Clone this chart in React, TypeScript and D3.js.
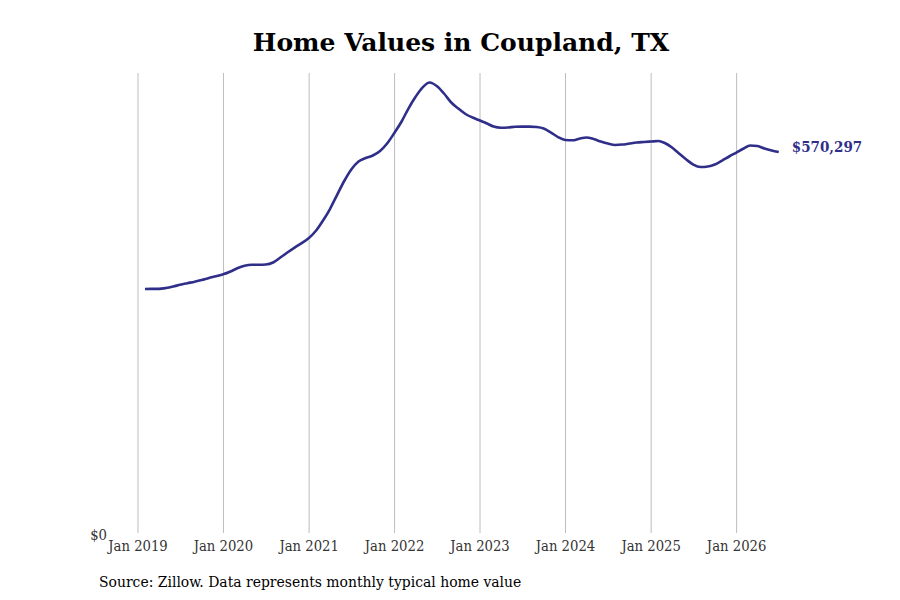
import React, { useEffect, useRef } from "react"
import * as d3 from "d3"

// monthly typical home value, Jan 2019 .. Jun 2026 (month-end)
const startMonth = "2019-01"
const values = [
  366300, 366500, 366600, 367800, 370000, 372700, 375000, 377200, 379700, 382700, 385300, 388200,
  392400, 397200, 400900, 402400, 402400, 402800, 405800, 413300, 420700, 428100, 434800, 442300,
  453500, 467600, 485500, 506300, 527200, 544300, 556200, 561400, 565200, 571900, 583000, 598700,
  615800, 634400, 652300, 666400, 673900, 668600, 657500, 644100, 635200, 627000, 621700, 617300,
  612800, 608300, 606600, 606900, 607900, 608200, 608200, 607600, 605400, 599400, 592700, 588200,
  587800, 590200, 592000, 589700, 586000, 583000, 580800, 581500, 583000, 584500, 585300, 586000,
  586700, 583800, 577000, 568100, 559200, 551700, 548000, 548800, 551700, 557700, 563700, 569600,
  575600, 580000, 579300, 575600, 572600, 570297,
]
const tickYears = [2019, 2020, 2021, 2022, 2023, 2024, 2025, 2026]
const yTicks = [0]

const title = "Home Values in Coupland, TX"
const source = "Source: Zillow. Data represents monthly typical home value"

const W = 900
const H = 600
const margin = { top: 73, right: 122, bottom: 65, left: 138 }

const App = () => {
  const ref = useRef<SVGSVGElement | null>(null)

  useEffect(() => {
    const svg = d3.select(ref.current)
    svg.selectAll("*").remove()

    const start = d3.timeParse("%Y-%m")(startMonth)!
    const data = values.map((v, i) => ({
      date: d3.timeDay.offset(d3.timeMonth.offset(start, i + 1), -1),
      value: v,
    }))

    const x = d3
      .scaleTime()
      .domain([new Date(2019, 0, 1), new Date(2026, 8, 1)])
      .range([margin.left, margin.left + 85.5 * (2026 + 8 / 12 - 2019)])

    const y = d3
      .scaleLinear()
      .domain([0, d3.max(values)! * 1.021])
      .range([H - margin.bottom, margin.top])

    const font = "'DejaVu Serif', serif"
    const condensed = "'DejaVu Serif Condensed', 'DejaVu Serif', serif"

    // vertical grid
    svg
      .append("g")
      .selectAll("line")
      .data(tickYears)
      .join("line")
      .attr("x1", (d) => x(new Date(d, 0, 1)))
      .attr("x2", (d) => x(new Date(d, 0, 1)))
      .attr("y1", margin.top)
      .attr("y2", y(0) - 2)
      .attr("stroke", "#bdbdbd")
      .attr("stroke-width", 1)

    // x tick labels
    svg
      .append("g")
      .selectAll("text")
      .data(tickYears)
      .join("text")
      .attr("x", (d) => x(new Date(d, 0, 1)))
      .attr("y", y(0) + 16)
      .attr("text-anchor", "middle")
      .attr("font-family", condensed)
      .style("font-stretch", "condensed")
      .attr("font-size", 14.7)
      .attr("fill", "#333")
      .text((d) => d3.timeFormat("%b %Y")(new Date(d, 0, 1)))

    // y tick label
    svg
      .append("g")
      .selectAll("text")
      .data(yTicks)
      .join("text")
      .attr("x", margin.left - 31)
      .attr("y", (d) => y(d) + 5)
      .attr("text-anchor", "end")
      .attr("font-family", condensed)
      .style("font-stretch", "condensed")
      .attr("font-size", 14.7)
      .attr("fill", "#333")
      .text((d) => d3.format("$,")(d))

    const line = d3
      .line<{ date: Date; value: number }>()
      .x((d) => x(d.date))
      .y((d) => y(d.value))
      .curve(d3.curveMonotoneX)

    svg
      .append("path")
      .datum(data)
      .attr("fill", "none")
      .attr("stroke", "#2f2f8a")
      .attr("stroke-width", 2.6)
      .attr("stroke-linejoin", "round")
      .attr("d", line)

    const last = data[data.length - 1]
    svg
      .append("text")
      .attr("x", x(last.date) + 13)
      .attr("y", y(last.value))
      .attr("font-family", condensed)
      .style("font-stretch", "condensed")
      .attr("font-size", 15)
      .attr("font-weight", "bold")
      .attr("fill", "#2f2f8a")
      .text(d3.format("$,")(last.value))

    svg
      .append("text")
      .attr("x", 461)
      .attr("y", 51)
      .attr("text-anchor", "middle")
      .attr("font-family", font)
      .attr("font-size", 25)
      .attr("font-weight", "bold")
      .attr("fill", "#000")
      .text(title)

    svg
      .append("text")
      .attr("x", 99)
      .attr("y", 587)
      .attr("font-family", condensed)
      .style("font-stretch", "condensed")
      .attr("font-size", 15.5)
      .attr("fill", "#000")
      .text(source)
  }, [])

  return (
    <svg
      ref={ref}
      width={W}
      height={H}
      style={{ position: "absolute", left: 0, top: 0, background: "#fff" }}
    ></svg>
  )
}

export default App
